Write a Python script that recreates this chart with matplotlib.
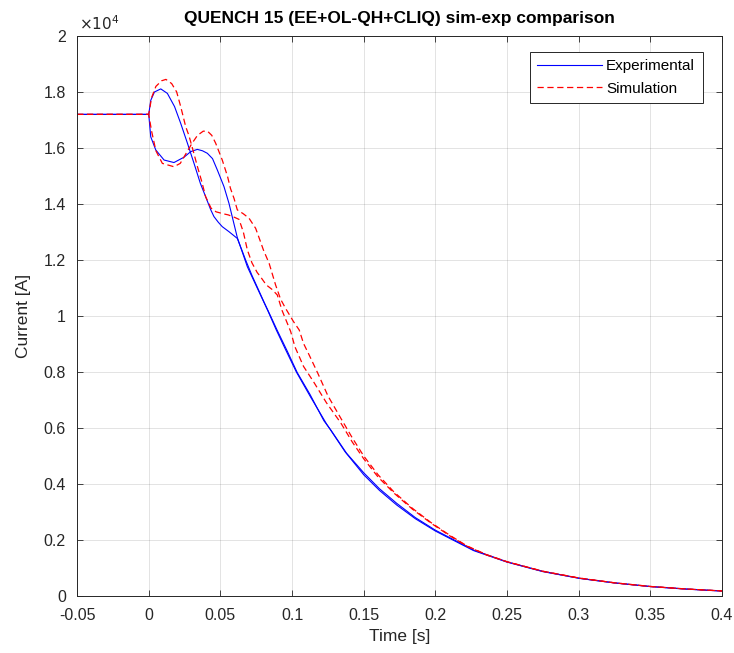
import matplotlib

matplotlib.use("Agg")
import matplotlib.pyplot as plt
from matplotlib.ticker import FuncFormatter

# Experimental currents (two branches), time [s] / current [A]
exp_a_t = [-0.05, 0.0, 0.0014, 0.004, 0.0084, 0.013, 0.018, 0.0223, 0.027, 0.0316, 0.036,
           0.0397, 0.0432, 0.0455, 0.0485, 0.0513, 0.056, 0.0618, 0.065, 0.0676, 0.072,
           0.076, 0.0804, 0.085, 0.0897, 0.0966, 0.1036, 0.1125, 0.1222, 0.127, 0.138,
           0.150, 0.161, 0.173, 0.186, 0.200, 0.2267, 0.250, 0.275, 0.301, 0.325, 0.350,
           0.375, 0.400]
exp_a_i = [17200, 17200, 17700, 18000, 18110, 17950, 17480, 16880, 16170, 15450, 14740,
           14260, 13800, 13550, 13350, 13190, 13010, 12770, 12350, 12000, 11450,
           11000, 10500, 10000, 9480, 8750, 7980, 7200, 6260, 5930, 5100,
           4400, 3830, 3310, 2800, 2350, 1640, 1220, 880, 630, 470, 340,
           250, 180]

exp_b_t = [-0.05, 0.0, 0.0014, 0.0049, 0.0107, 0.0176, 0.0246, 0.0293, 0.0339, 0.0375,
           0.0409, 0.0445, 0.0479, 0.0525, 0.056, 0.0618, 0.0688, 0.0757, 0.083, 0.089,
           0.095, 0.103, 0.113, 0.124, 0.137, 0.150, 0.161, 0.173, 0.186, 0.200, 0.2267,
           0.250, 0.275, 0.301, 0.325, 0.350, 0.375, 0.400]
exp_b_i = [17200, 17200, 16400, 15930, 15570, 15480, 15670, 15870, 15950, 15900,
           15810, 15620, 15210, 14620, 14020, 12800, 11760, 11000, 10200, 9500,
           8850, 8000, 7100, 6150, 5150, 4330, 3770, 3250, 2760, 2320, 1620,
           1210, 870, 625, 465, 335, 245, 175]

# Simulated currents (two branches)
sim_a_t = [-0.05, 0.0, 0.002, 0.005, 0.009, 0.012, 0.016, 0.0195, 0.0223, 0.0258, 0.028,
           0.031, 0.034, 0.037, 0.0397, 0.0435, 0.047, 0.052, 0.0555, 0.060, 0.063,
           0.066, 0.0688, 0.072, 0.0757, 0.078, 0.082, 0.086, 0.0897, 0.093, 0.099,
           0.102, 0.108, 0.115, 0.124, 0.134, 0.142, 0.150, 0.160, 0.171, 0.184, 0.197,
           0.210, 0.222, 0.236, 0.250, 0.275, 0.300, 0.325, 0.350, 0.375, 0.400]
sim_a_i = [17200, 17200, 17800, 18200, 18400, 18450, 18300, 18000, 17480, 16760, 16450,
           15900, 15330, 14800, 14260, 13850, 13720, 13650, 13610, 13520, 13450,
           13000, 12360, 11900, 11550, 11400, 11110, 10950, 10750, 10200, 9450,
           8900, 8200, 7650, 6900, 6180, 5500, 4900, 4250, 3680, 3100, 2600,
           2150, 1780, 1460, 1220, 880, 640, 470, 340, 250, 180]

sim_b_t = [-0.05, 0.0, 0.002, 0.005, 0.0095, 0.0176, 0.022, 0.026, 0.030, 0.034, 0.038,
           0.041, 0.044, 0.0467, 0.0513, 0.055, 0.057, 0.0595, 0.0618, 0.066, 0.070,
           0.0746, 0.078, 0.080, 0.084, 0.0885, 0.092, 0.0955, 0.101, 0.105, 0.108,
           0.112, 0.118, 0.125, 0.134, 0.142, 0.150, 0.160, 0.171, 0.184, 0.197, 0.210,
           0.222, 0.236, 0.250, 0.275, 0.300, 0.325, 0.350, 0.375, 0.400]
sim_b_i = [17200, 17200, 16600, 15900, 15450, 15330, 15450, 15800, 16150, 16450, 16600,
           16600, 16450, 16170, 15570, 14980, 14560, 14200, 13790, 13650, 13490,
           13130, 12650, 12360, 11880, 11110, 10600, 10270, 9800, 9500, 9020,
           8600, 7950, 7150, 6350, 5650, 5000, 4330, 3720, 3130, 2620, 2170,
           1790, 1470, 1225, 885, 645, 470, 340, 250, 180]

x_ticks = [-0.05, 0, 0.05, 0.1, 0.15, 0.2, 0.25, 0.3, 0.35, 0.4]
y_ticks = [0, 2000, 4000, 6000, 8000, 10000, 12000, 14000, 16000, 18000, 20000]

plt.rcParams["font.family"] = ["Liberation Sans", "DejaVu Sans"]
plt.rcParams["lines.scale_dashes"] = False
txt = (0.15, 0.15, 0.15)

fig = plt.figure(figsize=(7.34, 6.53), dpi=100)
ax = fig.add_axes([0.105, 0.0873, 0.8787, 0.8576])

ax.plot(exp_a_t, exp_a_i, color="#0000ff", lw=0.8, label="Experimental")
ax.plot(exp_b_t, exp_b_i, color="#0000ff", lw=0.8)
ax.plot(sim_a_t, sim_a_i, color="#ff0000", lw=0.9, ls=(0, (4.5, 2.6)), label="Simulation")
ax.plot(sim_b_t, sim_b_i, color="#ff0000", lw=0.9, ls=(0, (4.5, 2.6)))

ax.set_xlim(-0.05, 0.4)
ax.set_ylim(0, 20000)
ax.set_xticks(x_ticks)
ax.set_yticks(y_ticks)
ax.xaxis.set_major_formatter(FuncFormatter(lambda v, p: f"{v:g}"))
ax.yaxis.set_major_formatter(FuncFormatter(lambda v, p: f"{v / 1e4:g}"))
ax.tick_params(direction="in", top=True, right=True, labelsize=11.5,
               colors=txt, length=4, width=0.6)
ax.tick_params(axis="x", pad=9)
ax.tick_params(axis="y", pad=8)
ax.grid(True, color=(0.15, 0.15, 0.15), alpha=0.15, lw=0.6)
for s in ax.spines.values():
    s.set_color(txt)
    s.set_linewidth(0.7)

ax.text(0.003, 1.006, r"$\times10^{4}$", transform=ax.transAxes, fontsize=11,
        color=txt, ha="left", va="bottom")
ax.set_title("QUENCH 15 (EE+OL-QH+CLIQ) sim-exp comparison", fontsize=12.5,
             fontweight="bold", pad=9)
ax.set_xlabel("Time [s]", fontsize=12.5, color=txt, labelpad=4)
ax.set_ylabel("Current [A]", fontsize=12.5, color=txt, labelpad=9)

leg = ax.legend(loc="upper right", bbox_to_anchor=(0.97, 0.972), fontsize=11,
                fancybox=False, framealpha=1, borderaxespad=0, handlelength=4.2,
                borderpad=0.5, labelspacing=0.55, handletextpad=0.3)
leg.get_frame().set_edgecolor(txt)
leg.get_frame().set_linewidth(0.7)

fig.savefig("out.png", dpi=100)
